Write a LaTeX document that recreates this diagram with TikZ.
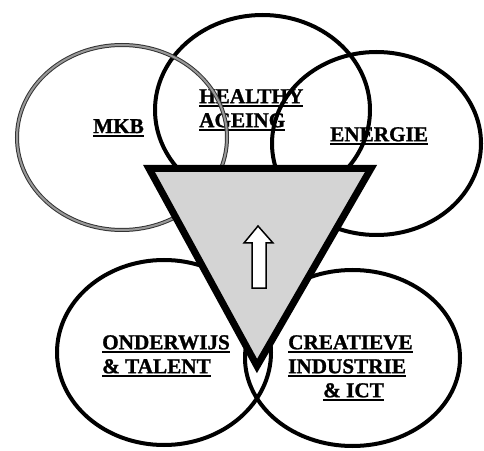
\documentclass[tikz,border=0pt]{standalone}
\usepackage{fontspec}
\setmainfont{Liberation Serif}[BoldFeatures={FakeBold=1.2}]
\usetikzlibrary{shapes.geometric}
\newcommand{\ulword}[1]{\setbox0\hbox{#1}\rlap{\rule[-4pt]{\wd0}{2pt}}\box0}

\begin{document}
\begin{tikzpicture}[x=1pt, y=1pt,
  lbl/.style={anchor=north west, inner sep=0pt, align=left, font=\fontsize{21.2}{24}\selectfont\bfseries},
  ring/.style={ellipse, draw, line width=4pt, inner sep=0pt},
  grayring/.style={ellipse, draw=black!80, double=black!40, double distance=2pt, line width=1pt, inner sep=0pt}]
\useasboundingbox (0,0) rectangle (484,450);
\node[lbl] (t1) at (93,331) {\ulword{MKB}};
\node[lbl] (t2) at (199,361) {\ulword{HEALTHY}\\\ulword{AGEING}};
\node[lbl] (t3) at (330,323) {\ulword{ENERGIE}};
\node[lbl] (t4) at (102,115) {\ulword{ONDERWIJS}\\\ulword{\& TALENT}};
\node[lbl] (t5) at (288,115) {\ulword{CREATIEVE}\\\ulword{INDUSTRIE}\\\hspace*{35pt}\ulword{\& ICT}};
\node[ring, minimum width=215pt, minimum height=190pt] (e2) at (262.5,340) {};
\node[ring, minimum width=209pt, minimum height=183pt] (e3) at (376.5,306.5) {};
\node[grayring, minimum width=210pt, minimum height=185pt] (e1) at (122,312.5) {};
\node[ring, minimum width=214pt, minimum height=185pt] (e4) at (164,97.5) {};
\node[ring, minimum width=215pt, minimum height=176pt] (e5) at (352.5,92) {};
\draw[line width=7pt, line join=miter, fill=black!17] (149,281.5) coordinate (v1) -- (371,281.5) coordinate (v2) -- (257,84) coordinate (v3) -- cycle;
\draw[line width=1.5pt, fill=white] (258,224) -- (273,207) -- (266,207) -- (266,162) -- (252,162) -- (252,207) -- (244,207) -- cycle;
\end{tikzpicture}
\end{document}
